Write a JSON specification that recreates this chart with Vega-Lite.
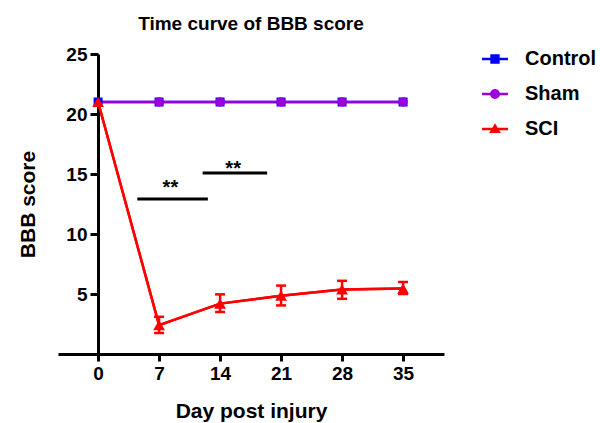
{
  "$schema": "https://vega.github.io/schema/vega-lite/v6.json",
  "autosize": "none",
  "width": 386,
  "height": 300,
  "padding": {"left": 58, "top": 54, "right": 156, "bottom": 69},
  "background": "white",
  "config": {
    "view": {"stroke": null},
    "font": "Liberation Sans",
    "axis": {"grid": false}
  },
  "title": {
    "text": "Time curve of BBB score",
    "fontSize": 19,
    "fontWeight": "bold",
    "font": "Liberation Sans",
    "anchor": "middle",
    "offset": 24,
    "dy": 13,
    "color": "black"
  },
  "datasets": {
    "scores": [
      {"group": "Control", "day": 0, "score": 21},
      {"group": "Control", "day": 7, "score": 21},
      {"group": "Control", "day": 14, "score": 21},
      {"group": "Control", "day": 21, "score": 21},
      {"group": "Control", "day": 28, "score": 21},
      {"group": "Control", "day": 35, "score": 21},
      {"group": "Sham", "day": 0, "score": 21},
      {"group": "Sham", "day": 7, "score": 21},
      {"group": "Sham", "day": 14, "score": 21},
      {"group": "Sham", "day": 21, "score": 21},
      {"group": "Sham", "day": 28, "score": 21},
      {"group": "Sham", "day": 35, "score": 21},
      {"group": "SCI", "day": 0, "score": 21},
      {"group": "SCI", "day": 7, "score": 2.4, "lo": 1.75, "hi": 3.1},
      {"group": "SCI", "day": 14, "score": 4.2, "lo": 3.5, "hi": 4.97},
      {"group": "SCI", "day": 21, "score": 4.86, "lo": 4.05, "hi": 5.7},
      {"group": "SCI", "day": 28, "score": 5.38, "lo": 4.6, "hi": 6.1},
      {"group": "SCI", "day": 35, "score": 5.45, "lo": 5.0, "hi": 6.0}
    ],
    "sig": [
      {"day": 4.5, "day2": 12.6, "score": 12.92},
      {"day": 12.0, "day2": 19.4, "score": 15.08}
    ],
    "sigtext": [
      {"day": 8.3, "score": 13.3, "label": "**"},
      {"day": 15.5, "score": 14.9, "label": "**"}
    ]
  },
  "layer": [
    {
      "data": {"name": "scores"},
      "mark": {"type": "line", "strokeWidth": 2.5},
      "encoding": {
        "x": {
          "field": "day", "type": "quantitative", "title": "Day post injury",
          "scale": {"domain": [-4.6, 39.7], "nice": false, "zero": false},
          "axis": {
            "values": [0, 7, 14, 21, 28, 35],
            "domainColor": "black", "domainWidth": 3,
            "tickColor": "black", "tickWidth": 3, "tickSize": 7,
            "labelFont": "Liberation Sans", "labelFontSize": 19, "labelFontWeight": "bold",
            "labelColor": "black", "labelPadding": 3, "labelFlush": false,
            "titleFont": "Liberation Sans", "titleFontSize": 21, "titleFontWeight": "bold",
            "titleColor": "black", "titlePadding": 17
          }
        },
        "y": {
          "field": "score", "type": "quantitative", "title": "BBB score",
          "scale": {"domain": [0, 25], "nice": false, "zero": false},
          "axis": {
            "values": [5, 10, 15, 20, 25],
            "offset": -40,
            "domainColor": "black", "domainWidth": 3,
            "tickColor": "black", "tickWidth": 3, "tickSize": 8,
            "labelFont": "Liberation Sans", "labelFontSize": 19, "labelFontWeight": "bold",
            "labelColor": "black", "labelPadding": 3, "labelFlush": false,
            "titleFont": "Liberation Sans", "titleFontSize": 21, "titleFontWeight": "bold",
            "titleColor": "black", "titleX": -70, "titleY": 150, "titleBaseline": "middle", "titleAnchor": "middle"
          }
        },
        "color": {
          "field": "group", "type": "nominal",
          "scale": {"domain": ["Control", "Sham", "SCI"], "range": ["#0000FF", "#9B00DC", "#FF0000"]},
          "legend": {
            "title": null,
            "orient": "none",
            "legendX": 424,
            "legendY": -8,
            "padding": 0,
            "symbolSize": 676,
            "rowPadding": 12,
            "labelOffset": 17,
            "labelFont": "Liberation Sans",
            "labelFontSize": 20,
            "labelFontWeight": "bold",
            "labelColor": "black",
            "labelLimit": 200,
            "encode": {
              "symbols": {
                "update": {
                  "shape": {"signal": "datum.value === 'Control' ? 'M-1,-0.1H1V0.1H-1Z M-0.36,-0.36H0.36V0.36H-0.36Z' : datum.value === 'Sham' ? 'M-1,-0.1H1V0.1H-1Z M-0.38,0A0.38,0.38 0 1,1 0.38,0A0.38,0.38 0 1,1 -0.38,0Z' : 'M-1,-0.1H1V0.1H-1Z M0,-0.45L0.45,0.3H-0.45Z'"},
                  "fill": {"signal": "scale('color', datum.value)"},
                  "fillOpacity": {"value": 1},
                  "strokeWidth": {"value": 0}
                }
              }
            }
          }
        }
      }
    },
    {
      "data": {"name": "scores"},
      "transform": [{"filter": "datum.group === 'Control'"}],
      "mark": {"type": "point", "shape": "square", "filled": true, "opacity": 1, "size": 81, "strokeWidth": 0},
      "encoding": {
        "x": {"field": "day", "type": "quantitative", "title": "Day post injury", "scale": {"domain": [-4.6, 39.7], "nice": false, "zero": false}},
        "y": {"field": "score", "type": "quantitative", "title": "BBB score", "scale": {"domain": [0, 25], "nice": false, "zero": false}},
        "color": {"field": "group", "type": "nominal", "scale": {"domain": ["Control", "Sham", "SCI"], "range": ["#0000FF", "#9B00DC", "#FF0000"]}}
      }
    },
    {
      "data": {"name": "scores"},
      "transform": [{"filter": "datum.group === 'Sham' && datum.day > 0"}],
      "mark": {"type": "point", "shape": "circle", "filled": true, "opacity": 1, "size": 90, "strokeWidth": 0},
      "encoding": {
        "x": {"field": "day", "type": "quantitative", "title": "Day post injury", "scale": {"domain": [-4.6, 39.7], "nice": false, "zero": false}},
        "y": {"field": "score", "type": "quantitative", "title": "BBB score", "scale": {"domain": [0, 25], "nice": false, "zero": false}},
        "color": {"field": "group", "type": "nominal", "scale": {"domain": ["Control", "Sham", "SCI"], "range": ["#0000FF", "#9B00DC", "#FF0000"]}}
      }
    },
    {
      "data": {"name": "scores"},
      "transform": [{"filter": "datum.group === 'SCI'"}],
      "mark": {"type": "line", "strokeWidth": 2.5, "color": "#FF0000"},
      "encoding": {
        "x": {"field": "day", "type": "quantitative", "title": "Day post injury", "scale": {"domain": [-4.6, 39.7], "nice": false, "zero": false}},
        "y": {"field": "score", "type": "quantitative", "title": "BBB score", "scale": {"domain": [0, 25], "nice": false, "zero": false}}
      }
    },
    {
      "data": {"name": "scores"},
      "transform": [{"filter": "datum.group === 'SCI'"}],
      "mark": {"type": "point", "shape": "triangle-up", "filled": true, "opacity": 1, "size": 140, "strokeWidth": 0},
      "encoding": {
        "x": {"field": "day", "type": "quantitative", "title": "Day post injury", "scale": {"domain": [-4.6, 39.7], "nice": false, "zero": false}},
        "y": {"field": "score", "type": "quantitative", "title": "BBB score", "scale": {"domain": [0, 25], "nice": false, "zero": false}},
        "color": {"field": "group", "type": "nominal", "scale": {"domain": ["Control", "Sham", "SCI"], "range": ["#0000FF", "#9B00DC", "#FF0000"]}}
      }
    },
    {
      "data": {"name": "scores"},
      "transform": [{"filter": "isValid(datum.lo)"}],
      "mark": {"type": "rule", "strokeWidth": 2.5, "color": "#FF0000"},
      "encoding": {
        "x": {"field": "day", "type": "quantitative", "title": "Day post injury", "scale": {"domain": [-4.6, 39.7], "nice": false, "zero": false}},
        "y": {"field": "lo", "type": "quantitative", "title": "BBB score", "scale": {"domain": [0, 25], "nice": false, "zero": false}},
        "y2": {"field": "hi"}
      }
    },
    {
      "data": {"name": "scores"},
      "transform": [{"filter": "isValid(datum.lo)"}],
      "mark": {"type": "tick", "orient": "horizontal", "size": 10, "thickness": 2.5, "color": "#FF0000", "opacity": 1},
      "encoding": {
        "x": {"field": "day", "type": "quantitative", "title": "Day post injury", "scale": {"domain": [-4.6, 39.7], "nice": false, "zero": false}},
        "y": {"field": "lo", "type": "quantitative", "title": "BBB score", "scale": {"domain": [0, 25], "nice": false, "zero": false}}
      }
    },
    {
      "data": {"name": "scores"},
      "transform": [{"filter": "isValid(datum.hi)"}],
      "mark": {"type": "tick", "orient": "horizontal", "size": 10, "thickness": 2.5, "color": "#FF0000", "opacity": 1},
      "encoding": {
        "x": {"field": "day", "type": "quantitative", "title": "Day post injury", "scale": {"domain": [-4.6, 39.7], "nice": false, "zero": false}},
        "y": {"field": "hi", "type": "quantitative", "title": "BBB score", "scale": {"domain": [0, 25], "nice": false, "zero": false}}
      }
    },
    {
      "data": {"name": "sig"},
      "mark": {"type": "rule", "strokeWidth": 3, "color": "black"},
      "encoding": {
        "x": {"field": "day", "type": "quantitative", "title": "Day post injury", "scale": {"domain": [-4.6, 39.7], "nice": false, "zero": false}},
        "x2": {"field": "day2"},
        "y": {"field": "score", "type": "quantitative", "title": "BBB score", "scale": {"domain": [0, 25], "nice": false, "zero": false}}
      }
    },
    {
      "data": {"name": "sigtext"},
      "mark": {"type": "text", "fontSize": 20, "fontWeight": "bold", "font": "Liberation Sans", "align": "center", "baseline": "alphabetic", "color": "black"},
      "encoding": {
        "x": {"field": "day", "type": "quantitative", "title": "Day post injury", "scale": {"domain": [-4.6, 39.7], "nice": false, "zero": false}},
        "y": {"field": "score", "type": "quantitative", "title": "BBB score", "scale": {"domain": [0, 25], "nice": false, "zero": false}},
        "text": {"field": "label"}
      }
    }
  ]
}
